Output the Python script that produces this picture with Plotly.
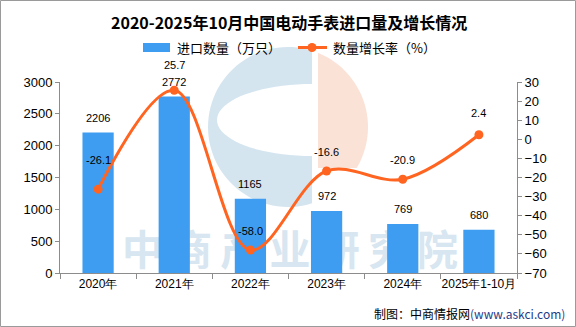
import math
import plotly.graph_objects as go

# Chart data
years = ["2020年", "2021年", "2022年", "2023年", "2024年", "2025年1-10月"]
import_volume = [2206, 2772, 1165, 972, 769, 680]      # 万只
growth_rate = [-26.1, 25.7, -58.0, -16.6, -20.9, 2.4]  # %

title_text = "2020-2025年10月中国电动手表进口量及增长情况"
bar_name = "进口数量（万只）"
line_name = "数量增长率（%）"
source_text = "制图：中商情报网<span style='color:#1F3C88'>(www.askci.com)</span>"
watermark = "中\u2009商\u2009产\u2009业\u2009研\u2009究\u2009院"

BAR_COLOR = "#3E9DF1"
LINE_COLOR = "#FF6420"
AXIS_COLOR = "#8C8C8C"

W, H = 576, 327
L, R, T, B = 60, 517, 82, 273


def px(x):
    return (x - L) / (R - L)


def py(y):
    return (B - y) / (B - T)


def path_from(points):
    s = "M " + " L ".join(f"{px(x):.5f},{py(y):.5f}" for x, y in points)
    return s + " Z"


# background logo: a blue "C" and an orange right-hand segment
cx, cy, r = 288, 127, 80
blue_pts = []
for i in range(61):
    a = math.radians(72.5 + (287.5 - 72.5) * i / 60)
    blue_pts.append((cx + r * math.cos(a), cy - r * math.sin(a)))
blue_pts.append((312, 156))
for i in range(41):
    a = math.radians(270 - 180 * i / 40)
    blue_pts.append((312 + 95 * math.cos(a), 120 - 36 * math.sin(a)))

orange_pts = []
a0 = math.degrees(math.acos((318 - cx) / r))
a1 = -math.degrees(math.asin((168 - cy) / r))
for i in range(41):
    a = math.radians(a0 + (a1 - a0) * i / 40)
    orange_pts.append((cx + r * math.cos(a), cy - r * math.sin(a)))
orange_pts.append((318, 168))

fig = go.Figure()

fig.add_trace(go.Bar(
    x=years, y=import_volume, name=bar_name,
    marker=dict(color=BAR_COLOR, line=dict(width=0)),
    width=0.41, yaxis="y", showlegend=False,
))

fig.add_trace(go.Scatter(
    x=years, y=growth_rate, name=line_name, yaxis="y2",
    mode="lines+markers",
    line=dict(color=LINE_COLOR, width=3, shape="spline", smoothing=1.0),
    marker=dict(color=LINE_COLOR, size=9),
    showlegend=False,
))

annotations = []
# value labels above the bars
for cat, v in zip(years, import_volume):
    annotations.append(dict(
        x=cat, y=v, xref="x", yref="y", text=str(v), showarrow=False,
        yanchor="bottom", yshift=7,
        font=dict(family="Liberation Sans", size=11, color="#000"),
    ))
# growth labels above the markers
label_lift = [21, 17, 11, 11, 11, 14]
for cat, v, lift in zip(years, growth_rate, label_lift):
    annotations.append(dict(
        x=cat, y=v, xref="x", yref="y2", text=f"{v:.1f}", showarrow=False,
        yanchor="bottom", yshift=lift,
        font=dict(family="Liberation Sans", size=11, color="#000"),
    ))

annotations += [
    dict(x=0.5, y=py(22), xref="paper", yref="paper", text=f"<b>{title_text}</b>",
         showarrow=False, xanchor="center", yanchor="middle",
         font=dict(family="Noto Sans CJK SC", size=16, color="#000")),
    dict(x=px(175), y=py(47.5), xref="paper", yref="paper", text=bar_name,
         showarrow=False, xanchor="left", yanchor="middle",
         font=dict(family="Noto Sans CJK SC", size=13, color="#000")),
    dict(x=px(331), y=py(47.5), xref="paper", yref="paper", text=line_name,
         showarrow=False, xanchor="left", yanchor="middle",
         font=dict(family="Noto Sans CJK SC", size=13, color="#000")),
    dict(x=px(567), y=py(313), xref="paper", yref="paper", text=source_text,
         showarrow=False, xanchor="right", yanchor="middle",
         font=dict(family="Noto Sans CJK SC", size=12, color="#000")),
]

shapes = [
    # logo behind the plot
    dict(type="path", xref="paper", yref="paper", layer="below",
         path=path_from(blue_pts), fillcolor="#D5E5EF", line=dict(width=0)),
    dict(type="path", xref="paper", yref="paper", layer="below",
         path=path_from(orange_pts), fillcolor="#FBE2D7", line=dict(width=0)),
    # watermark text
    dict(type="rect", xref="paper", yref="paper", layer="below",
         x0=px(110), x1=px(470), y0=py(276), y1=py(232),
         fillcolor="rgba(0,0,0,0)", line=dict(width=0),
         label=dict(text=watermark, textposition="middle center",
                    font=dict(family="Noto Sans CJK SC", size=41, color="#D7E6F0",
                              weight="bold"))),
    # legend swatches
    dict(type="rect", xref="paper", yref="paper",
         x0=px(143), x1=px(170), y0=py(52), y1=py(43),
         fillcolor=BAR_COLOR, line=dict(width=0)),
    dict(type="line", xref="paper", yref="paper",
         x0=px(298), x1=px(327), y0=py(47.5), y1=py(47.5),
         line=dict(color=LINE_COLOR, width=3)),
    dict(type="circle", xref="paper", yref="paper",
         x0=px(307.5), x1=px(316.5), y0=py(52), y1=py(43),
         fillcolor=LINE_COLOR, line=dict(width=0)),
    # outer frame
    dict(type="rect", xref="paper", yref="paper",
         x0=px(0.5), x1=px(575.5), y0=py(326.5), y1=py(0.5),
         fillcolor="rgba(0,0,0,0)", line=dict(color="#9A9A9A", width=1)),
]

tick_font = dict(family="Liberation Sans", size=13, color="#000")

fig.update_layout(
    width=W, height=H,
    margin=dict(l=L, r=W - R, t=T, b=H - B),
    paper_bgcolor="white", plot_bgcolor="rgba(0,0,0,0)",
    showlegend=False,
    bargap=0.59,
    xaxis=dict(
        type="category", range=[-0.5, 5.5], tickangle=0, automargin=False,
        showline=True, linecolor=AXIS_COLOR, linewidth=1,
        ticks="outside", tickson="boundaries", ticklen=5, tickcolor=AXIS_COLOR,
        showgrid=False, zeroline=False,
        tickfont=dict(family="Liberation Sans", size=12, color="#000"),
    ),
    yaxis=dict(
        range=[0, 3000], dtick=500, tick0=0, automargin=False,
        showline=True, linecolor=AXIS_COLOR, linewidth=1,
        ticks="outside", ticklen=4, tickcolor=AXIS_COLOR,
        showgrid=False, zeroline=False, tickfont=tick_font,
    ),
    yaxis2=dict(
        range=[-70, 30], dtick=10, tick0=0, overlaying="y", side="right",
        automargin=False,
        showline=True, linecolor=AXIS_COLOR, linewidth=1,
        ticks="outside", ticklen=4, tickcolor=AXIS_COLOR,
        showgrid=False, zeroline=False, tickfont=tick_font,
    ),
    annotations=annotations,
    shapes=shapes,
)

fig.write_html("out.html")
